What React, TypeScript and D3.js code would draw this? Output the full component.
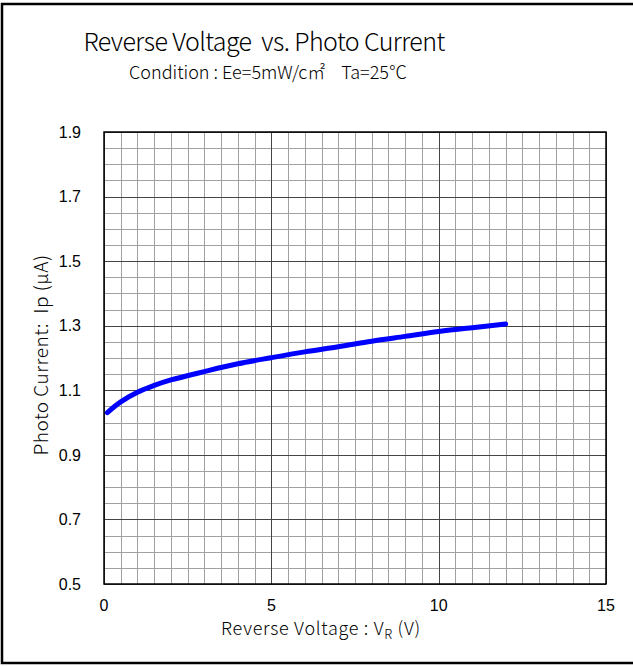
import React, { useEffect, useRef } from 'react';
import * as d3 from 'd3';

// Reverse voltage (V) vs photo current (uA)
const voltage = [0.1, 0.5, 1, 1.5, 2, 3, 4, 5, 6, 7, 8, 9, 10, 11, 12];
const current = [1.031, 1.064, 1.094, 1.115, 1.132, 1.158, 1.182, 1.201, 1.219, 1.235, 1.252, 1.267, 1.282, 1.294, 1.305];

const xTicks = [0, 5, 10, 15];
const yTicks = [0.5, 0.7, 0.9, 1.1, 1.3, 1.5, 1.7, 1.9];

const W = 633;
const H = 666;
const margin = { left: 104, top: 132, right: 606, bottom: 584 };

export default function App() {
  const svgRef = useRef<SVGSVGElement>(null);

  useEffect(() => {
    const svg = d3.select(svgRef.current);
    svg.selectAll('*').remove();

    const x = d3.scaleLinear().domain([0, 15]).range([margin.left, margin.right]);
    const y = d3.scaleLinear().domain([0.5, 1.9]).range([margin.bottom, margin.top]);

    // outer frame
    svg.append('rect')
      .attr('x', 2).attr('y', 4)
      .attr('width', W + 10).attr('height', H - 7)
      .attr('fill', 'none').attr('stroke', '#000').attr('stroke-width', 2.5);

    const grid = svg.append('g');

    // minor grid
    const xMinor = d3.range(0, 15.01, 0.5);
    const yMinor = d3.range(0.5, 1.901, 0.05);
    grid.selectAll('line.xm')
      .data(xMinor)
      .join('line')
      .attr('x1', d => Math.round(x(d)) + 0.5).attr('x2', d => Math.round(x(d)) + 0.5)
      .attr('y1', margin.top).attr('y2', margin.bottom)
      .attr('stroke', '#a0a0a0').attr('stroke-width', 1);
    grid.selectAll('line.ym')
      .data(yMinor)
      .join('line')
      .attr('y1', d => Math.round(y(d)) + 0.5).attr('y2', d => Math.round(y(d)) + 0.5)
      .attr('x1', margin.left).attr('x2', margin.right)
      .attr('stroke', '#a0a0a0').attr('stroke-width', 1);

    // major grid
    grid.selectAll('line.xM')
      .data(xTicks)
      .join('line')
      .attr('x1', d => Math.round(x(d)) + 0.5).attr('x2', d => Math.round(x(d)) + 0.5)
      .attr('y1', margin.top).attr('y2', margin.bottom)
      .attr('stroke', '#444').attr('stroke-width', 1);
    grid.selectAll('line.yM')
      .data(yTicks)
      .join('line')
      .attr('y1', d => Math.round(y(d)) + 0.5).attr('y2', d => Math.round(y(d)) + 0.5)
      .attr('x1', margin.left).attr('x2', margin.right)
      .attr('stroke', '#444').attr('stroke-width', 1);

    // plot border
    svg.append('rect')
      .attr('x', margin.left).attr('y', margin.top)
      .attr('width', margin.right - margin.left)
      .attr('height', margin.bottom - margin.top)
      .attr('fill', 'none').attr('stroke', '#000').attr('stroke-width', 1.5);

    // curve
    const line = d3.line<number>()
      .x((d, i) => x(voltage[i]))
      .y(d => y(d))
      .curve(d3.curveCatmullRom.alpha(0.5));
    svg.append('path')
      .attr('d', line(current))
      .attr('fill', 'none')
      .attr('stroke', '#0000ff')
      .attr('stroke-width', 5)
      .attr('stroke-linecap', 'round');

    // tick labels
    svg.selectAll('text.yt')
      .data(yTicks)
      .join('text')
      .attr('x', 81).attr('y', d => y(d))
      .attr('dy', '0.36em')
      .attr('text-anchor', 'end')
      .attr('font-family', '"Liberation Sans", Arial, sans-serif')
      .attr('font-size', 16)
      .text(d => d.toFixed(1));
    svg.selectAll('text.xt')
      .data(xTicks)
      .join('text')
      .attr('x', d => x(d)).attr('y', 611)
      .attr('text-anchor', 'middle')
      .attr('font-family', '"Liberation Sans", Arial, sans-serif')
      .attr('font-size', 16)
      .text(d => d);

    const jp = '"Noto Sans CJK JP", "Noto Sans", sans-serif';

    // titles
    svg.append('text')
      .attr('x', 264).attr('y', 51)
      .attr('text-anchor', 'middle')
      .attr('font-family', jp).attr('font-weight', 300)
      .attr('font-size', 25)
      .attr('letter-spacing', -0.6)
      .text('Reverse Voltage\u00a0\u00a0vs. Photo Current');
    svg.append('text')
      .attr('x', 268).attr('y', 79)
      .attr('text-anchor', 'middle')
      .attr('font-family', jp).attr('font-weight', 300)
      .attr('font-size', 18)
      .text('Condition : Ee=5mW/c\u33a1\u00a0\u00a0\u00a0\u00a0Ta=25\u2103');

    // x axis title
    const xt = svg.append('text')
      .attr('x', 321).attr('y', 635)
      .attr('text-anchor', 'middle')
      .attr('font-family', jp).attr('font-weight', 300)
      .attr('font-size', 18)
      .attr('letter-spacing', 0.7);
    xt.append('tspan').text('Reverse Voltage : V');
    xt.append('tspan').attr('dy', 4).attr('font-size', 13).text('R');
    xt.append('tspan').attr('dy', -4).text(' (V)');

    // y axis title
    svg.append('text')
      .attr('transform', 'translate(48,355) rotate(-90)')
      .attr('text-anchor', 'middle')
      .attr('font-family', jp).attr('font-weight', 300)
      .attr('font-size', 19)
      .attr('letter-spacing', 0.5)
      .text('Photo Current:\u00a0\u00a0Ip (\u03bcA)');
  }, []);

  return (
    <svg
      ref={svgRef}
      width={W}
      height={H}
      style={{ position: 'absolute', left: 0, top: 0, background: '#fff' }}
    />
  );
}
